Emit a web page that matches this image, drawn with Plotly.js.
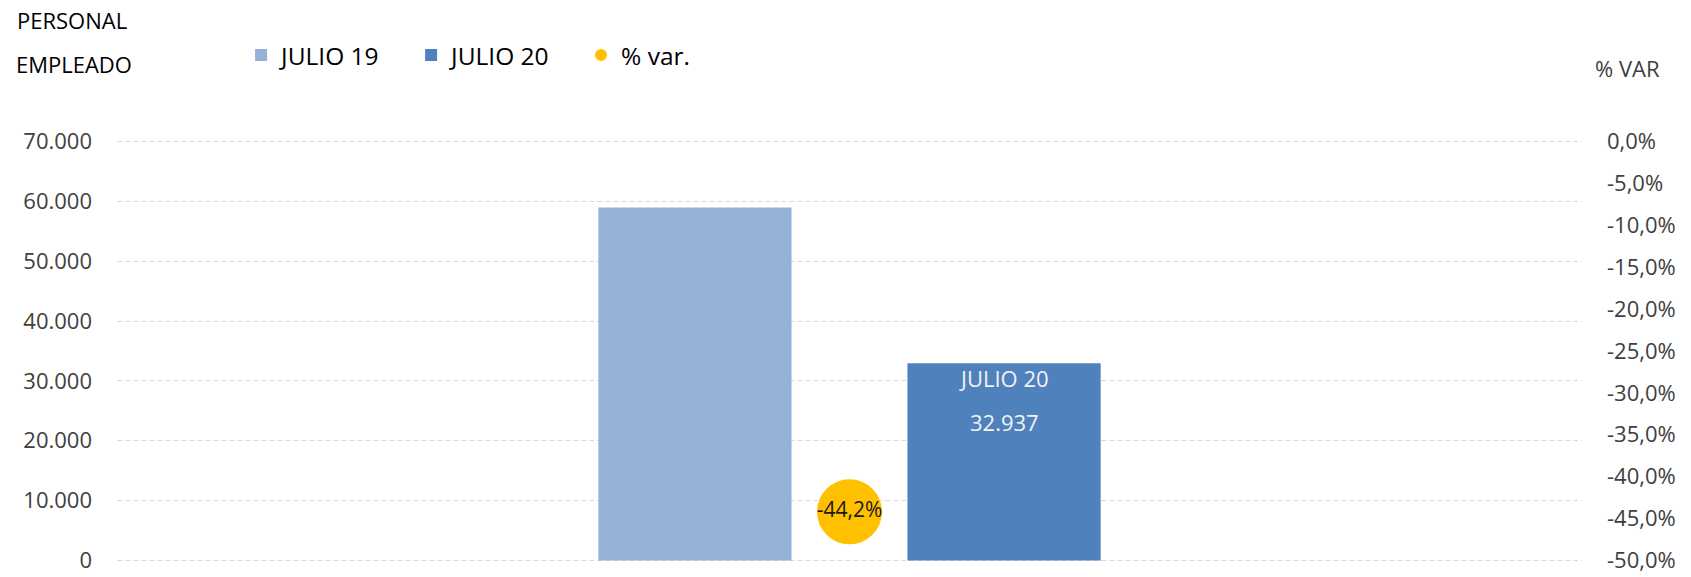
<!DOCTYPE html>
<html>
<head>
<meta charset="utf-8">
<script src="https://cdn.plot.ly/plotly-3.0.1.min.js"></script>
<style>
  html, body { margin: 0; padding: 0; background: #fff; }
  #chart { width: 1691px; height: 577px; }
</style>
</head>
<body>
<div id="chart"></div>
<script>
const categories = ['PERSONAL EMPLEADO'];
const julio19Values = [59000];
const julio20Values = [32937];
const varValues = [-0.442];
const varLabels = ['-44,2%'];
const barLabels = ['JULIO 20', '32.937'];

const leftTickVals = [0, 10000, 20000, 30000, 40000, 50000, 60000, 70000];
const leftTickText = ['0', '10.000', '20.000', '30.000', '40.000', '50.000', '60.000', '70.000'];
const rightTickVals = [0, -0.05, -0.1, -0.15, -0.2, -0.25, -0.3, -0.35, -0.4, -0.45, -0.5];
const rightTickText = ['0,0%', '-5,0%', '-10,0%', '-15,0%', '-20,0%', '-25,0%', '-30,0%',
  '-35,0%', '-40,0%', '-45,0%', '-50,0%'];

const FONT = 'Open Sans, sans-serif';
const GREY = '#404040';

const traces = [
  {
    type: 'bar',
    name: 'JULIO 19',
    x: categories,
    y: julio19Values,
    marker: { color: '#95b3d7' },
    hoverinfo: 'skip'
  },
  {
    type: 'bar',
    name: 'JULIO 20',
    x: categories,
    y: julio20Values,
    marker: { color: '#4f81bd' },
    hoverinfo: 'skip'
  },
  {
    type: 'scatter',
    mode: 'markers+text',
    name: '% var.',
    x: categories,
    y: varValues,
    yaxis: 'y2',
    text: varLabels,
    textposition: 'middle center',
    textfont: { family: FONT, size: 21, color: '#1a1a1a' },
    marker: { color: '#ffc000', size: 65, line: { width: 0 } },
    hoverinfo: 'skip'
  }
];

// padding so the grid lines at 0 and 70.000 are not clipped at the edges
const pad = 260;

const layout = {
  width: 1691,
  height: 577,
  paper_bgcolor: '#fff',
  plot_bgcolor: '#fff',
  font: { family: FONT, size: 22, color: GREY },
  margin: { l: 117, r: 109, t: 140, b: 15, pad: 0 },
  barmode: 'group',
  bargap: 0.578,
  bargroupgap: 0.375,
  showlegend: true,
  legend: {
    orientation: 'h',
    x: 0.0847,
    xanchor: 'left',
    y: 1.201,
    yanchor: 'middle',
    itemsizing: 'constant',
    entrywidth: 125,
    entrywidthmode: 'pixels',
    font: { family: FONT, size: 24.5, color: '#000' },
    bgcolor: 'rgba(0,0,0,0)'
  },
  xaxis: {
    type: 'category',
    visible: false,
    fixedrange: true
  },
  yaxis: {
    range: [-pad, 70000 + pad],
    tickvals: leftTickVals,
    ticktext: leftTickText,
    showgrid: true,
    gridcolor: '#d9d9d9',
    gridwidth: 1,
    griddash: '5px,3px',
    zeroline: false,
    showline: false,
    ticks: '',
    ticklabelstandoff: 24,
    tickfont: { family: FONT, size: 22, color: GREY },
    fixedrange: true
  },
  yaxis2: {
    overlaying: 'y',
    side: 'right',
    range: [-0.5 - pad / 140000, pad / 140000],
    tickvals: rightTickVals,
    ticktext: rightTickText,
    showgrid: false,
    zeroline: false,
    showline: false,
    ticks: '',
    ticklabelstandoff: 24,
    tickfont: { family: FONT, size: 22, color: GREY },
    fixedrange: true
  },
  annotations: [
    {
      text: 'PERSONAL', xref: 'paper', yref: 'paper', x: -0.0696, y: 1.285,
      xanchor: 'left', yanchor: 'middle', showarrow: false,
      font: { family: FONT, size: 22, color: '#000' }
    },
    {
      text: 'EMPLEADO', xref: 'paper', yref: 'paper', x: -0.0703, y: 1.181,
      xanchor: 'left', yanchor: 'middle', showarrow: false,
      font: { family: FONT, size: 22, color: '#000' }
    },
    {
      text: '% VAR', xref: 'paper', yref: 'paper', x: 1.0075, y: 1.171,
      xanchor: 'left', yanchor: 'middle', showarrow: false,
      font: { family: FONT, size: 22, color: GREY }
    },
    {
      text: barLabels[0], xref: 'x', yref: 'y', x: 0, y: julio20Values[0],
      xshift: 154.5, yshift: -15, xanchor: 'center', yanchor: 'middle', showarrow: false,
      font: { family: FONT, size: 22, color: '#f2f2f2' }
    },
    {
      text: barLabels[1], xref: 'x', yref: 'y', x: 0, y: julio20Values[0],
      xshift: 154.5, yshift: -59, xanchor: 'center', yanchor: 'middle', showarrow: false,
      font: { family: FONT, size: 22, color: '#f2f2f2' }
    }
  ]
};

Plotly.newPlot('chart', traces, layout, { displayModeBar: false, staticPlot: true });
</script>
</body>
</html>
